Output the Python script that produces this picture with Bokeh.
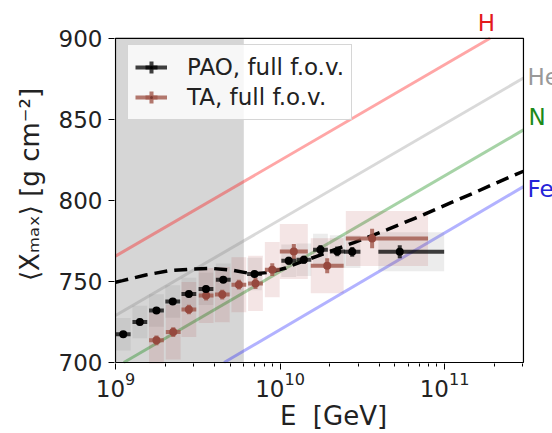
import numpy as np
from bokeh.plotting import figure
from bokeh.models import Range1d, FixedTicker, Legend, LegendItem, ColumnDataSource
from bokeh.core.properties import value
from bokeh.embed import file_html
from bokeh.resources import INLINE

# ---------------- data (log10 E/GeV, <Xmax> in g/cm^2) ----------------
x_lo, x_hi = 9.0, 11.48          # visible axes box
y_lo, y_hi = 700, 900
y_ticks = [700, 750, 800, 850, 900]
x_major = [1e9, 1e10, 1e11]

shade_lgE = [9.0, 9.78]

H_lgE, H_X = [9.0, 11.277], [765.6, 900.0]
He_lgE, He_X = [9.0, 11.48], [729.0, 875.5]
N_lgE, N_X = [9.05, 11.48], [700.0, 843.5]
Fe_lgE, Fe_X = [9.66, 11.48], [700.0, 808.5]

dash_lgE = [9.0, 9.043, 9.184, 9.326, 9.468, 9.59, 9.711, 9.833, 9.934, 10.035,
            10.125, 10.266, 10.449, 10.652, 10.854, 11.036, 11.178, 11.32, 11.48]
dash_X = [749.5, 750.5, 754.0, 756.6, 757.7, 758.0, 757.0, 754.6, 755.6, 758.3,
          762.0, 767.0, 774.0, 782.0, 790.4, 798.5, 804.6, 811.0, 818.0]

pao_lgE = [9.047, 9.148, 9.249, 9.348, 9.446, 9.550, 9.655, 9.845, 10.053, 10.145,
           10.246, 10.348, 10.439, 10.728]
pao_X = [717.4, 725.0, 732.1, 737.6, 742.3, 745.4, 751.1, 754.6, 762.8, 763.4,
         769.5, 768.5, 768.3, 768.3]
pao_dlo = [0.045, 0.045, 0.045, 0.045, 0.045, 0.045, 0.045, 0.045, 0.045, 0.045,
           0.045, 0.045, 0.05, 0.13]
pao_dhi = [0.045, 0.045, 0.045, 0.045, 0.045, 0.045, 0.045, 0.045, 0.045, 0.045,
           0.045, 0.045, 0.05, 0.27]
pao_stat = [2.0, 2.0, 2.0, 2.0, 2.0, 2.0, 2.0, 2.0, 2.5, 2.5, 3.0, 3.0, 3.0, 4.0]
pao_sys = [10, 10, 10, 10, 10, 10, 10, 10, 10, 10, 10, 10, 10, 12]

ta_lgE = [9.249, 9.351, 9.446, 9.551, 9.649, 9.750, 9.851, 9.953, 10.084, 10.287, 10.560]
ta_X = [713.7, 718.8, 732.7, 741.3, 741.9, 748.0, 748.8, 757.3, 768.5, 759.7, 776.5]
ta_dlo = [0.045, 0.045, 0.045, 0.045, 0.045, 0.045, 0.045, 0.045, 0.085, 0.10, 0.16]
ta_dhi = [0.045, 0.045, 0.045, 0.045, 0.045, 0.045, 0.045, 0.045, 0.085, 0.10, 0.34]
ta_stat = [3.0, 3.0, 3.0, 3.0, 3.0, 3.0, 3.5, 4.0, 4.6, 4.6, 6.0]
ta_sys = [17, 17, 17, 17, 17, 17, 17, 17, 17, 17, 17]

labels = ["H", "He", "N", "Fe"]
label_lgE = [11.255, 11.505, 11.51, 11.505]
label_X = [909.5, 876.0, 851.5, 807.0]
label_colors = ["#e31a1c", "#999999", "#1b8a1b", "#2424d8"]
label_align = ["center", "left", "left", "left"]
# ---------------------------------------------------------------------

FONT = "DejaVu Sans"
FS = "23px"
PAO_C = "black"
TA_C = "#a0564a"

PX_DEC = 164.5      # pixels per decade
PX_Y = 1.63         # pixels per g/cm^2
frame_left, frame_right, frame_top, frame_bottom = 114, 552, 5, 365
W, H = 552, 433

r_x0 = x_lo - (115 - frame_left) / PX_DEC
r_x1 = r_x0 + (frame_right - frame_left) / PX_DEC
r_y0 = y_lo - (frame_bottom - 364) / PX_Y
r_y1 = r_y0 + (frame_bottom - frame_top) / PX_Y


def E(v):
    return 10 ** np.asarray(v, dtype=float)


p = figure(width=W, height=H, x_axis_type="log", output_backend="svg",
           toolbar_location=None,
           x_range=Range1d(10 ** r_x0, 10 ** r_x1), y_range=Range1d(r_y0, r_y1),
           min_border_left=frame_left, min_border_right=W - frame_right,
           min_border_top=frame_top, min_border_bottom=H - frame_bottom)
p.grid.visible = False
p.outline_line_color = None
p.background_fill_color = "white"
p.border_fill_color = "white"

# shaded region
p.quad(left=[E(shade_lgE[0])], right=[E(shade_lgE[1])], bottom=[y_lo], top=[y_hi],
       fill_color="#c4c4c4", fill_alpha=0.7, line_color=None)

# composition lines
for lg, X, col, a in [(H_lgE, H_X, "red", 0.35), (He_lgE, He_X, "gray", 0.3),
                      (N_lgE, N_X, "green", 0.35), (Fe_lgE, Fe_X, "blue", 0.3)]:
    src = ColumnDataSource(dict(x=E(lg), y=X))
    p.line("x", "y", source=src, line_color=col, line_alpha=a, line_width=3)

# sources
pao = ColumnDataSource(dict(
    x=E(pao_lgE), y=pao_X,
    xl=E(np.array(pao_lgE) - np.array(pao_dlo)), xr=E(np.array(pao_lgE) + np.array(pao_dhi)),
    yl=np.array(pao_X) - np.array(pao_stat), yh=np.array(pao_X) + np.array(pao_stat),
    sl=np.array(pao_X) - np.array(pao_sys), sh=np.array(pao_X) + np.array(pao_sys)))
ta = ColumnDataSource(dict(
    x=E(ta_lgE), y=ta_X,
    xl=E(np.array(ta_lgE) - np.array(ta_dlo)), xr=E(np.array(ta_lgE) + np.array(ta_dhi)),
    yl=np.array(ta_X) - np.array(ta_stat), yh=np.array(ta_X) + np.array(ta_stat),
    sl=np.array(ta_X) - np.array(ta_sys), sh=np.array(ta_X) + np.array(ta_sys)))

# systematic boxes
p.quad(left="xl", right="xr", bottom="sl", top="sh", source=pao,
       fill_color="gray", fill_alpha=0.15, line_color=None)
p.quad(left="xl", right="xr", bottom="sl", top="sh", source=ta,
       fill_color="brown", fill_alpha=0.12, line_color=None)

# dashed model curve
p.line(E(dash_lgE), dash_X, line_color="black", line_width=3.5, line_dash="13 7")

# error bars + points
ta_xb = p.segment(x0="xl", x1="xr", y0="y", y1="y", source=ta, line_color=TA_C,
                  line_alpha=0.8, line_width=4)
p.segment(x0="x", x1="x", y0="yl", y1="yh", source=ta, line_color=TA_C,
          line_alpha=0.8, line_width=4)
p.scatter("x", "y", source=ta, marker="circle", size=8, fill_color="#96483e",
          line_color=None)
pao_xb = p.segment(x0="xl", x1="xr", y0="y", y1="y", source=pao, line_color=PAO_C,
                   line_alpha=0.75, line_width=4)
p.segment(x0="x", x1="x", y0="yl", y1="yh", source=pao, line_color=PAO_C,
          line_alpha=0.75, line_width=4)
p.scatter("x", "y", source=pao, marker="circle", size=8, fill_color="black",
          line_color=None)

# tiny markers (invisible in the plot) that give the legend its error-bar symbol
pao_v = p.scatter("x", "y", source=pao, marker="cross", size=0.05,
                  line_color=PAO_C, line_alpha=0.75, line_width=4)
ta_v = p.scatter("x", "y", source=ta, marker="cross", size=0.05,
                 line_color=TA_C, line_alpha=0.8, line_width=4)
pao_d = p.scatter("x", "y", source=pao, marker="dot", size=0.05,
                  line_color="black", fill_color="black")
ta_d = p.scatter("x", "y", source=ta, marker="dot", size=0.05,
                 line_color="#7a3a32", fill_color="#7a3a32")

# axes box (drawn as lines so labels outside it stay visible)
box = ColumnDataSource(dict(x=E([x_lo, x_hi, x_hi, x_lo, x_lo]),
                            y=[y_lo, y_lo, y_hi, y_hi, y_lo]))
p.line("x", "y", source=box, line_color="black", line_width=1.2)

# composition labels
lab = ColumnDataSource(dict(x=E(label_lgE), y=label_X, t=labels, c=label_colors, a=label_align))
p.text(x="x", y="y", text="t", source=lab, text_color="c", text_align="a",
       text_baseline="middle", text_font=value(FONT), text_font_size=value(FS))

legend = Legend(items=[
    LegendItem(label="PAO, full f.o.v.", renderers=[pao_xb, pao_v, pao_d]),
    LegendItem(label="TA, full f.o.v.", renderers=[ta_xb, ta_v, ta_d]),
], location=(13, 243))
legend.padding = 7
legend.spacing = 0
legend.glyph_width = 32
legend.glyph_height = 30
legend.label_height = 30
legend.label_standoff = 20
legend.label_text_font = FONT
legend.label_text_font_size = FS
legend.label_text_color = "#222222"
legend.background_fill_color = "white"
legend.background_fill_alpha = 0.8
legend.border_line_color = "#cccccc"
legend.border_line_alpha = 0.8
p.add_layout(legend)

# axes
minor = [m * d for d in (1e9, 1e10, 1e11) for m in range(2, 10) if m * d <= 10 ** x_hi]
p.xaxis.ticker = FixedTicker(ticks=x_major, minor_ticks=minor)
p.yaxis.ticker = FixedTicker(ticks=y_ticks, minor_ticks=[])
for ax in (p.xaxis[0], p.yaxis[0]):
    ax.major_label_text_font = FONT
    ax.major_label_text_font_size = FS
    ax.major_label_text_color = "#222222"
    ax.axis_label_text_font = FONT
    ax.axis_label_text_font_size = "26px"
    ax.axis_label_text_font_style = "normal"
    ax.axis_label_text_color = "#222222"
    ax.major_tick_in = 0
    ax.major_tick_out = 6
    ax.minor_tick_in = 0
    ax.minor_tick_out = 3
    ax.axis_line_color = None
    ax.major_tick_line_color = "black"
    ax.minor_tick_line_color = "black"

p.xaxis.axis_label = "E\u00a0\u00a0[GeV]"
p.yaxis.axis_label = "⟨Xₘₐₓ⟩ [g cm⁻²]"
p.xaxis.major_label_standoff = 2
p.yaxis.major_label_standoff = 6
p.yaxis.axis_label_standoff = 11
p.xaxis.axis_label_standoff = 1

open("out.html", "w").write(file_html(p, INLINE))
